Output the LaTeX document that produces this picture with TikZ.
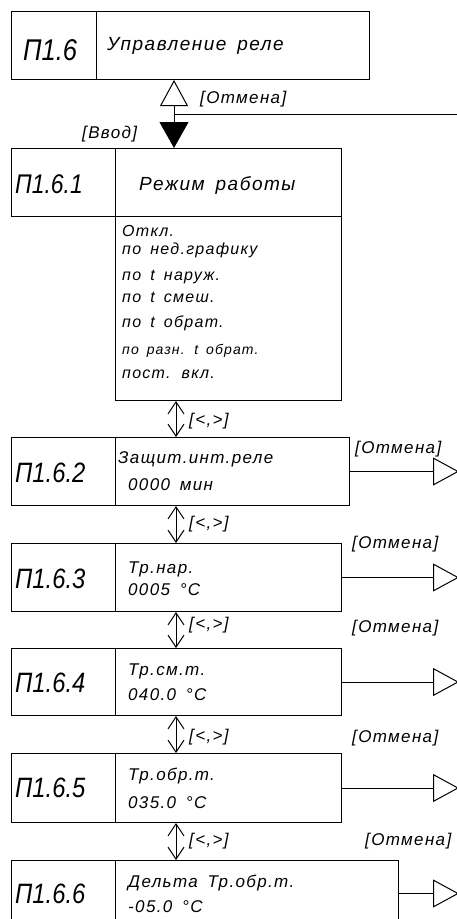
\documentclass[tikz,border=0pt]{standalone}
\usepackage{fontspec}
\setmainfont{Liberation Sans}[LetterSpace=8,WordSpace=1.6]
\newfontfamily\idfont{Liberation Sans}[FakeStretch=0.85]
\usetikzlibrary{arrows.meta}
\tikzset{cell/.style = {draw, line width=1pt, anchor=north west, inner sep=0pt}}
\tikzset{idtxt/.style = {anchor=base west, inner sep=0pt, font=\idfont\itshape\fontsize{#1}{#1}\selectfont}}
\tikzset{txt/.style = {anchor=base west, inner sep=0pt, font=\itshape\fontsize{#1}{#1}\selectfont}}
\tikzset{dbl/.style={line width=1pt,{Straight Barb[length=12pt,width=16pt]}-{Straight Barb[length=12pt,width=16pt]}}}
\tikzset{cancel/.style={line width=1pt,-{Triangle[open,length=26pt,width=28pt]}}}
\tikzset{enter/.style={line width=1pt,-{Triangle[length=26pt,width=29pt]}}}

\begin{document}
\begin{tikzpicture}[x=1pt,y=-1pt]
	\useasboundingbox (0,0) rectangle (457,919);
	\coordinate (jn) at (174,114);
	\coordinate (ax) at (176,0);
	\coordinate (ex) at (459,0);
	\coordinate (rim) at (457,0);
	% P1.6
	\node[cell, minimum width=85pt, minimum height=68pt] (c16id) at (11,11) {};
	\node[cell, minimum width=273pt, minimum height=68pt] (c16) at (96,11) {};
	\node[idtxt=30] (t16id) at (23,60) {П1.6};
	\node[txt=19] (t16) at (107,50) {Управление реле};
	% P1.6.1
	\node[cell, minimum width=104pt, minimum height=68pt] (c161id) at (11,148) {};
	\node[cell, minimum width=226pt, minimum height=68pt] (c161) at (115,148) {};
	\node[cell, minimum width=226pt, minimum height=184pt] (c161opt) at (115,216) {};
	\node[idtxt=27] (t161id) at (15,193) {П1.6.1};
	\node[txt=19] (t161) at (139,190) {Режим работы};
	\node[txt=16] (o1) at (122,236) {Откл.};
	\node[txt=16] (o2) at (122,254) {по нед.графику};
	\node[txt=16] (o3) at (122,280) {по t наруж.};
	\node[txt=16] (o4) at (122,302) {по t смеш.};
	\node[txt=16] (o5) at (122,327) {по t обрат.};
	\node[txt=14] (o6) at (122,354) {по разн. t обрат.};
	\node[txt=16] (o7) at (122,378) {пост. вкл.};
	% P1.6.2
	\node[cell, minimum width=104pt, minimum height=68pt] (c162id) at (11,437) {};
	\node[cell, minimum width=234pt, minimum height=68pt] (c162) at (115,437) {};
	\node[idtxt=28] (t162id) at (15,482) {П1.6.2};
	\node[txt=17] (t162a) at (118,463) {Защит.инт.реле};
	\node[txt=17] (t162b) at (128,490) {0000 мин};
	% P1.6.3
	\node[cell, minimum width=104pt, minimum height=68pt] (c163id) at (11,543) {};
	\node[cell, minimum width=226pt, minimum height=68pt] (c163) at (115,543) {};
	\node[idtxt=28] (t163id) at (15,588) {П1.6.3};
	\node[txt=17] (t163a) at (128,573) {Тр.нар.};
	\node[txt=17] (t163b) at (128,595) {0005 °C};
	% P1.6.4
	\node[cell, minimum width=104pt, minimum height=67pt] (c164id) at (11,648) {};
	\node[cell, minimum width=226pt, minimum height=67pt] (c164) at (115,648) {};
	\node[idtxt=28] (t164id) at (15,692) {П1.6.4};
	\node[txt=17] (t164a) at (128,675) {Тр.см.т.};
	\node[txt=17] (t164b) at (128,700) {040.0 °C};
	% P1.6.5
	\node[cell, minimum width=104pt, minimum height=69pt] (c165id) at (11,753) {};
	\node[cell, minimum width=226pt, minimum height=69pt] (c165) at (115,753) {};
	\node[idtxt=28] (t165id) at (15,797) {П1.6.5};
	\node[txt=17] (t165a) at (128,780) {Тр.обр.т.};
	\node[txt=17] (t165b) at (128,808) {035.0 °C};
	% P1.6.6
	\node[cell, minimum width=104pt, minimum height=66pt] (c166id) at (11,860) {};
	\node[cell, minimum width=283pt, minimum height=66pt] (c166) at (115,860) {};
	\node[idtxt=28] (t166id) at (15,903) {П1.6.6};
	\node[txt=17] (t166a) at (128,887) {Дельта Тр.обр.т.};
	\node[txt=17] (t166b) at (128,912) {-05.0 °C};
	% enter / cancel
	\draw[cancel] (jn) -- (jn |- c16.south);
	\draw[enter] (jn) -- (jn |- c161.north);
	\draw[line width=1pt] (jn) -- (jn -| rim);
	\node[txt=17] (l16c) at (200,103) {[Отмена]};
	\node[txt=17] (l16e) at (82,138) {[Ввод]};
	% scrolling
	\draw[dbl] (ax |- c161opt.south) -- (ax |- c162.north);
	\draw[dbl] (ax |- c162.south) -- (ax |- c163.north);
	\draw[dbl] (ax |- c163.south) -- (ax |- c164.north);
	\draw[dbl] (ax |- c164.south) -- (ax |- c165.north);
	\draw[dbl] (ax |- c165.south) -- (ax |- c166.north);
	\node[txt=17] (s1) at (189,425) {[<,>]};
	\node[txt=17] (s2) at (189,528) {[<,>]};
	\node[txt=17] (s3) at (189,629) {[<,>]};
	\node[txt=17] (s4) at (189,741) {[<,>]};
	\node[txt=17] (s5) at (189,845) {[<,>]};
	% exits
	\draw[cancel] (c162.east) -- (c162.east -| ex);
	\draw[cancel] (c163.east) -- (c163.east -| ex);
	\draw[cancel] (c164.east) -- (c164.east -| ex);
	\draw[cancel] (c165.east) -- (c165.east -| ex);
	\draw[cancel] (c166.east) -- (c166.east -| ex);
	\node[txt=17] (x2) at (355,453) {[Отмена]};
	\node[txt=17] (x3) at (352,548) {[Отмена]};
	\node[txt=17] (x4) at (352,632) {[Отмена]};
	\node[txt=17] (x5) at (352,742) {[Отмена]};
	\node[txt=17] (x6) at (365,845) {[Отмена]};
\end{tikzpicture}
\end{document}
